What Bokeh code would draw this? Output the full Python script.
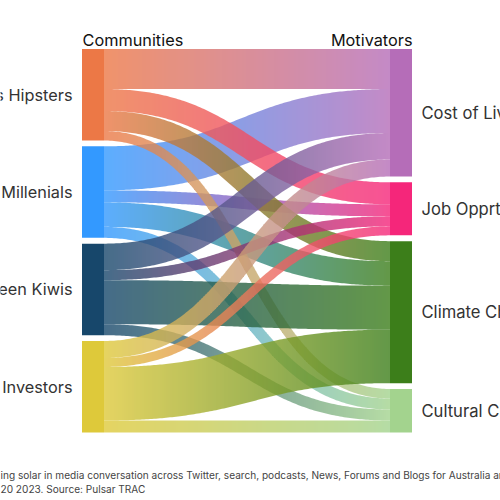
import numpy as np
from bokeh.plotting import figure
from bokeh.models import Range1d, ColumnDataSource
from bokeh.embed import file_html
from bokeh.resources import INLINE
from bokeh.core.properties import value

# ---------------- data ----------------
communities = ["Greens Hipsters", "Millenials", "Green Kiwis", "Solar Investors"]
motivators = ["Cost of Living", "Job Opprtunities", "Climate Change", "Cultural Change"]
# share of each community's conversation going to each motivator
cost_of_living = [40, 44, 26.5, 17]
job_opportunities = [22, 12, 10, 9]
climate_change = [20, 24.5, 44, 53.5]
cultural_change = [9.5, 11, 11, 12]

community_colors = ["#EC7846", "#3399FF", "#17476B", "#DEC93A"]
motivator_colors = ["#B56DB8", "#F5267A", "#3C7E1A", "#A3D38E"]

# order in which each community's flows are painted (later = on top)
paint_order = [1, 0, 2, 3]

header_left = "Communities"
header_right = "Motivators"
footer_1 = "ing solar in media conversation across Twitter, search, podcasts, News, Forums and Blogs for Australia and New Zealand"
footer_2 = "20 2023. Source: Pulsar TRAC"

# ---------------- layout ----------------
W = H = 500
p = figure(width=W, height=H, x_range=Range1d(0, W), y_range=Range1d(H, 0),
           output_backend="svg", toolbar_location=None, min_border=0,
           x_axis_type=None, y_axis_type=None)
p.grid.visible = False
p.outline_line_color = None
p.background_fill_color = "white"
p.border_fill_color = "white"

M = np.array([cost_of_living, job_opportunities, climate_change, cultural_change], dtype=float).T
src_tot = M.sum(axis=1)
tgt_tot = M.sum(axis=0)

TOP, BOTTOM, GAP = 48.5, 432.0, 5.8
PX = -0.5  # align slice edges to device pixels
XL0, XL1 = 82 + PX, 104 + PX
XR0, XR1 = 390 + PX, 412 + PX
scale = (BOTTOM - TOP - GAP * 3) / max(src_tot.sum(), tgt_tot.sum())

src_y = TOP + np.concatenate([[0], np.cumsum(src_tot)[:-1]]) * scale + np.arange(4) * GAP
tgt_y = TOP + np.concatenate([[0], np.cumsum(tgt_tot)[:-1]]) * scale + np.arange(4) * GAP


def rgb(h):
    h = h.lstrip("#")
    return np.array([int(h[i:i + 2], 16) for i in (0, 2, 4)], dtype=float)


def hexc(c):
    c = np.clip(np.round(c), 0, 255).astype(int)
    return "#%02x%02x%02x" % tuple(c)


# link offsets within nodes
src_off = np.zeros(4)
tgt_off = np.zeros(4)
links = []
for i in range(4):
    for j in range(4):
        w = M[i, j] * scale
        sy = src_y[i] + src_off[i]
        src_off[i] += w
        links.append([i, j, sy, w])
for j in range(4):
    for lk in links:
        if lk[1] == j:
            lk.append(tgt_y[j] + tgt_off[j])
            tgt_off[j] += lk[3]

links.sort(key=lambda lk: paint_order.index(lk[0]))

xs_all, ys_all, cols = [], [], []
t = np.linspace(0, 1, 800)
grid = np.arange(XL1, XR0 + 0.01, 2)
for i, j, sy, w, ty in links:
    y0 = sy + w / 2
    y1 = ty + w / 2
    x0, x1 = XL1, XR0
    cx = x0 + (x1 - x0) * (1.5 * t - 1.5 * t ** 2 + t ** 3)
    cy = y0 + (y1 - y0) * (3 * t ** 2 - 2 * t ** 3)
    dx = (x1 - x0) * (1.5 - 3 * t + 3 * t ** 2)
    dy = (y1 - y0) * (6 * t - 6 * t ** 2)
    L = np.hypot(dx, dy)
    nx, ny = -dy / L, dx / L
    ax, ay = cx + nx * w / 2, cy + ny * w / 2
    bx, by = cx - nx * w / 2, cy - ny * w / 2
    ax = np.maximum.accumulate(ax)
    bx = np.maximum.accumulate(bx)
    ya = np.interp(grid, ax, ay)
    yb = np.interp(grid, bx, by)
    ytop = np.minimum(ya, yb)
    ybot = np.maximum(ya, yb)
    c0, c1 = rgb(community_colors[i]), rgb(motivator_colors[j])
    for k in range(len(grid) - 1):
        xa, xb = grid[k], grid[k + 1]
        f = ((xa + xb) / 2 - x0) / (x1 - x0)
        xs_all.append([xa, xb, xb, xa])
        ys_all.append([ytop[k], ytop[k + 1], ybot[k + 1], ybot[k]])
        cols.append(hexc(c0 * (1 - f) + c1 * f))

p.patches(xs="xs", ys="ys", fill_color="c", fill_alpha=0.8, line_color=None,
          source=ColumnDataSource(dict(xs=xs_all, ys=ys_all, c=cols)))

# nodes
p.quad(left=[XL0] * 4, right=[XL1] * 4, top=list(src_y), bottom=list(src_y + src_tot * scale),
       fill_color=community_colors, line_color=None)
p.quad(left=[XR0] * 4, right=[XR1] * 4, top=list(tgt_y), bottom=list(tgt_y + tgt_tot * scale),
       fill_color=motivator_colors, line_color=None)

FONT = value("Inter")
p.text(x=[82 - 10] * 4, y=list(src_y + src_tot * scale / 2), text=communities,
       text_font=FONT, text_font_size="16.3px", text_color="#333333",
       text_align="right", text_baseline="middle")
p.text(x=[412 + 9] * 4, y=list(tgt_y + tgt_tot * scale / 2), text=motivators,
       text_font=FONT, text_font_size="16.6px", text_color="#333333",
       text_align="left", text_baseline="middle")

p.text(x=[82], y=[39.5], text=[header_left], text_font=FONT, text_font_size="16.3px",
       text_color="#111111", text_align="left", text_baseline="alphabetic")
p.text(x=[412], y=[39.5], text=[header_right], text_font=FONT, text_font_size="16.3px",
       text_color="#111111", text_align="right", text_baseline="alphabetic")

p.text(x=[0, 0], y=[474, 488.5], text=[footer_1, footer_2], text_font=FONT,
       text_font_size="10.1px", text_color="#444444", text_align="left", text_baseline="middle")

open("out.html", "w").write(file_html(p, INLINE))
